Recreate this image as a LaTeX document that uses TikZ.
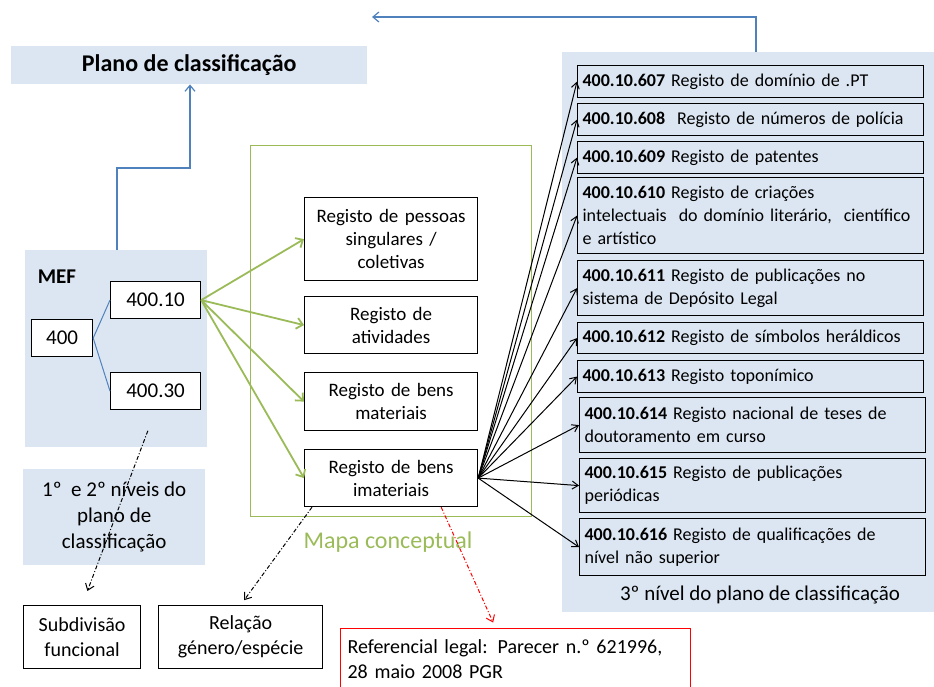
\documentclass[tikz,border=0pt]{standalone}
\usepackage{fontspec}
\setmainfont{Carlito}
\usetikzlibrary{arrows.meta}

\definecolor{panelblue}{RGB}{220,230,242}
\definecolor{mapgreen}{RGB}{155,187,89}
\definecolor{linkblue}{RGB}{79,129,189}

\begin{document}
\begin{tikzpicture}[x=1pt,y=-1pt,
  panel/.style={fill=panelblue,inner sep=0pt,anchor=north west},
  regbox/.style={draw,line width=1.2pt,fill=white,anchor=north west,minimum width=173pt,
    text width=165pt,align=center,font=\fontsize{19}{23}\selectfont},
  codebox/.style={draw,line width=1.2pt,anchor=north west,minimum width=346pt,
    text width=336pt,align=left,inner sep=5pt,font=\fontsize{18}{23}\selectfont},
  numbox/.style={draw,line width=1.2pt,fill=white,anchor=north west,minimum height=37pt,
    font=\fontsize{21}{25}\selectfont},
  greenarrow/.style={mapgreen,line width=1.8pt,-{Straight Barb[length=6pt,width=11pt]}},
  codearrow/.style={line width=1pt,-{Straight Barb[length=6pt,width=8pt]}},
  hint/.style={line width=1pt,dash pattern=on 4pt off 2pt on 1pt off 2pt,
    -{Straight Barb[length=6pt,width=9pt]}},
  linkarrow/.style={linkblue,line width=1.2pt,-{Straight Barb[length=6pt,width=10pt]}}]

\useasboundingbox (0,0) rectangle (934,686);

% Panels
\node[panel,minimum width=356pt,minimum height=38pt,
  font=\bfseries\fontsize{24}{28}\selectfont] (plano) at (11,46)
{Plano de classificação};

\node[panel,minimum width=182pt,minimum height=197pt] (mef) at (25,250) {};

\node[panel,minimum width=182pt,minimum height=96pt,align=center,
  font=\fontsize{21}{26}\selectfont] (niveis) at (23,469)
{1º\ \ e 2º níveis do\\plano de\\classificação};

\node[panel,minimum width=372pt,minimum height=560pt] (nivel3) at (562,52) {};

\node[font=\fontsize{21}{25}\selectfont] (nivel3txt) at (760,595)
{3º nível do plano de classificação};

%--------------------------------------------------
% MEF: 1st and 2nd level
%--------------------------------------------------
\node[font=\bfseries\fontsize{21}{25}\selectfont] (meftxt) at (57,277) {MEF};

\node[numbox,minimum width=61pt] (n400) at (31,319) {400};
\node[numbox,minimum width=90pt] (n10) at (110,281) {400.10};
\node[numbox,minimum width=90pt] (n30) at (110,372) {400.30};

\draw[linkblue,line width=1pt] (n400.east) -- (n10.west);
\draw[linkblue,line width=1pt] (n400.east) -- (n30.west);

% Back to the classification plan
\draw[linkarrow] ([xshift=92pt]mef.north west) -- ++(0,-82)
  -| ([xshift=179pt]plano.south west);

\coordinate (back) at (372,17);
\draw[linkarrow] ([xshift=194pt]nivel3.north west) |- (back);

%--------------------------------------------------
% Conceptual map
%--------------------------------------------------
\node[draw=mapgreen,line width=1.2pt,minimum width=281pt,minimum height=371pt,
  anchor=north west] (mapa) at (250,145) {};

\node[text=mapgreen,font=\fontsize{24}{28}\selectfont] (mapatxt) at (388,542)
{Mapa conceptual};

\node[regbox,minimum height=83pt] (reg1) at (304,197)
{Registo de pessoas\\singulares /\\coletivas};
\node[regbox,minimum height=57pt] (reg2) at (304,296)
{Registo de\\atividades};
\node[regbox,minimum height=58pt] (reg3) at (304,372)
{Registo de bens\\materiais};
\node[regbox,minimum height=57pt] (reg4) at (304,449)
{Registo de bens\\imateriais};

\draw[greenarrow] (n10.east) -- (reg1.west);
\draw[greenarrow] (n10.east) -- (reg2.west);
\draw[greenarrow] (n10.east) -- (reg3.west);
\draw[greenarrow] (n10.east) -- (reg4.west);

%--------------------------------------------------
% 3rd level
%--------------------------------------------------
\node[codebox,minimum height=32pt] (c607) at (577,65)
{\textbf{400.10.607} Registo de domínio de .PT};
\node[codebox,minimum height=32pt] (c608) at (577,103)
{\textbf{400.10.608}\ \ Registo de números de polícia};
\node[codebox,minimum height=32pt] (c609) at (577,141)
{\textbf{400.10.609} Registo de patentes};
\node[codebox,minimum height=76pt] (c610) at (577,177)
{\textbf{400.10.610} Registo de criações\\intelectuais\ \ do domínio literário,\ \ científico\\e artístico};
\node[codebox,minimum height=55pt] (c611) at (577,260)
{\textbf{400.10.611} Registo de publicações no\\sistema de Depósito Legal};
\node[codebox,minimum height=31pt] (c612) at (577,322)
{\textbf{400.10.612} Registo de símbolos heráldicos};
\node[codebox,minimum height=32pt] (c613) at (577,360)
{\textbf{400.10.613} Registo toponímico};
\node[codebox,minimum height=55pt] (c614) at (579,397)
{\textbf{400.10.614} Registo nacional de teses de\\doutoramento em curso};
\node[codebox,minimum height=54pt] (c615) at (579,458)
{\textbf{400.10.615} Registo de publicações\\periódicas};
\node[codebox,minimum height=57pt] (c616) at (579,518)
{\textbf{400.10.616} Registo de qualificações de\\nível não superior};

\draw[codearrow] (reg4.east) -- (c607.west);
\draw[codearrow] (reg4.east) -- (c608.west);
\draw[codearrow] (reg4.east) -- (c609.west);
\draw[codearrow] (reg4.east) -- (c610.west);
\draw[codearrow] (reg4.east) -- (c611.west);
\draw[codearrow] (reg4.east) -- (c612.west);
\draw[codearrow] (reg4.east) -- (c613.west);
\draw[codearrow] (reg4.east) -- (c614.west);
\draw[codearrow] (reg4.east) -- (c615.west);
\draw[codearrow] (reg4.east) -- (c616.west);

%--------------------------------------------------
% Notes below
%--------------------------------------------------
\node[draw,line width=1.2pt,anchor=north west,minimum width=117pt,minimum height=63pt,
  align=center,font=\fontsize{20}{25}\selectfont] (subdiv) at (23,605)
{Subdivisão\\funcional};
\node[draw,line width=1.2pt,anchor=north west,minimum width=164pt,minimum height=63pt,
  align=center,font=\fontsize{20}{25}\selectfont] (relacao) at (158,605)
{Relação\\género/espécie};
\node[draw=red,line width=1.2pt,anchor=north west,minimum width=350pt,minimum height=62pt,
  text width=336pt,align=left,font=\fontsize{20}{25}\selectfont] (legal) at (340,628)
{Referencial legal: Parecer n.º 621996,\\28 maio 2008 PGR};

\draw[hint,shorten <=22pt,shorten >=15pt] (n30.south) -- (subdiv.north);
\draw[hint,shorten >=6pt] ([xshift=8pt]reg4.south west) -- (relacao.north);
\draw[hint,red,shorten >=6pt] ([xshift=-37pt]reg4.south east)
  -- ([xshift=-20pt]legal.north);

\end{tikzpicture}
\end{document}
